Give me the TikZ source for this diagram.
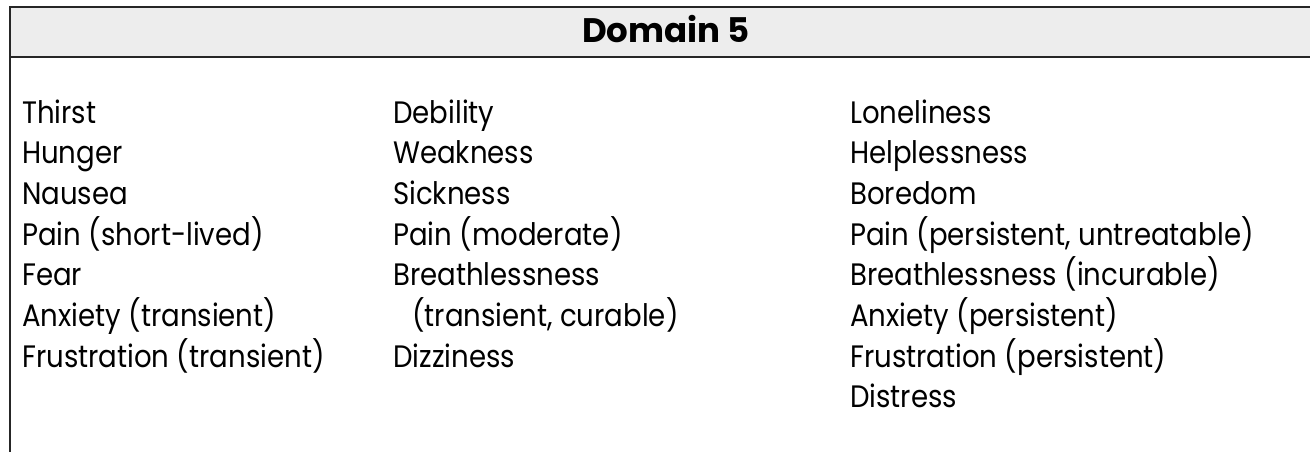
\documentclass[tikz,border=0pt]{standalone}
\usepackage{fontspec}
\setmainfont[FakeStretch=0.89]{Poppins}
\newfontfamily\titlefont{Poppins}
\begin{document}
\begin{tikzpicture}[x=1pt,y=-1pt,
  item/.style={anchor=base west,inner sep=0pt,font=\fontsize{31}{37}\selectfont},
  title/.style={anchor=base,inner sep=0pt,font=\titlefont\fontsize{34}{40}\selectfont\bfseries},
  frameline/.style={line width=1.6pt,draw=black!85}]
\useasboundingbox (0,0) rectangle (1310,451);
\fill[black!7] (10,7) rectangle (1312,57);
\draw[frameline] (1312,7) -- (10,7) -- (10,455);
\draw[frameline] (10,57) -- (1312,57);
\node[title] (t) at (666,42) {Domain 5};
\foreach \txt [count=\i] in {Thirst,Hunger,Nausea,Pain (short-lived),Fear,Anxiety (transient),Frustration (transient)}
  \node[item] (a\i) at (22,{123+40.7*(\i-1)}) {\txt};
\foreach \txt [count=\i] in {Debility,Weakness,Sickness,Pain (moderate),Breathlessness}
  \node[item] (b\i) at (393,{123+40.7*(\i-1)}) {\txt};
\node[item] (b6) at (412,{123+40.7*5}) {(transient, curable)};
\node[item] (b7) at (393,{123+40.7*6}) {Dizziness};
\foreach \txt [count=\i] in {Loneliness,Helplessness,Boredom,{Pain (persistent, untreatable)},Breathlessness (incurable),Anxiety (persistent),Frustration (persistent),Distress}
  \node[item] (c\i) at (850,{123+40.7*(\i-1)}) {\txt};
\end{tikzpicture}
\end{document}
